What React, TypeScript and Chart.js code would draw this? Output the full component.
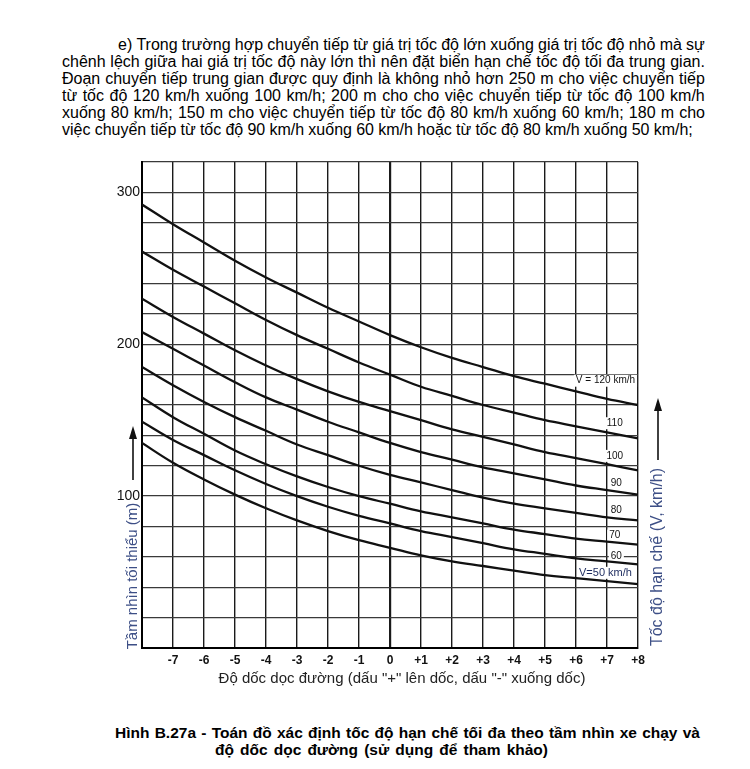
import React, { useEffect, useRef } from 'react';
import { Chart, registerables } from 'chart.js';

Chart.register(...registerables);

// Grade (%) along the x axis
const grades = [-8, -7, -6, -5, -4, -3, -2, -1, 0, 1, 2, 3, 4, 5, 6, 7, 8];
const xTickLabels = ['', '-7', '-6', '-5', '-4', '-3', '-2', '-1', '0', '+1', '+2', '+3', '+4', '+5', '+6', '+7', '+8'];
const yTickLabels = ['100', '200', '300'];

// Minimum sight distance (m) for each speed limit curve
const v120 = [292, 279, 267, 255, 244, 234, 224, 215, 206, 198, 191, 185, 179, 174, 169, 164, 160];
const v110 = [261, 249, 238, 227, 216, 206, 197, 188, 180, 172, 166, 160, 155, 150, 146, 142, 138];
const v100 = [230, 218, 207, 196, 186, 177, 169, 162, 156, 150, 144, 139, 134, 129, 125, 121, 117];
const v90 = [208, 197, 186, 175, 165, 157, 149, 142, 135, 129, 124, 119, 115, 111, 107, 104, 101];
const v80 = [185, 173, 162, 152, 143, 134, 127, 120, 114, 109, 104, 99, 95, 92, 89, 86, 84];
const v70 = [165, 152, 141, 130, 121, 113, 106, 100, 95, 90, 86, 82, 78, 75, 72, 70, 68];
const v60 = [149, 137, 127, 117, 108, 100, 93, 87, 82, 77, 73, 69, 65, 62, 59, 57, 55];
const v50 = [135, 122, 111, 101, 92, 84, 77, 71, 66, 61, 57, 54, 51, 48, 46, 44, 42];

const curveLabels = ['V = 120 km/h', '110', '100', '90', '80', '70', '60', 'V=50 km/h'];
const labelGrade = [6.95, 7.25, 7.25, 7.3, 7.3, 7.25, 7.3, 6.95];
const labelDist = [176, 148, 126.5, 108.5, 90.5, 74, 60.5, 49.5];

const paragraph = [
  'e) Trong trường hợp chuyển tiếp từ giá trị tốc độ lớn xuống giá trị tốc độ nhỏ mà sự',
  'chênh lệch giữa hai giá trị tốc độ này lớn thì nên đặt biển hạn chế tốc độ tối đa trung gian.',
  'Đoạn chuyển tiếp trung gian được quy định là không nhỏ hơn 250 m cho việc chuyển tiếp',
  'từ tốc độ 120 km/h xuống 100 km/h; 200 m cho cho việc chuyển tiếp từ tốc độ 100 km/h',
  'xuống 80 km/h; 150 m cho việc chuyển tiếp từ tốc độ 80 km/h xuống 60 km/h; 180 m cho',
  'việc chuyển tiếp từ tốc độ 90 km/h xuống 60 km/h hoặc từ tốc độ 80 km/h xuống 50 km/h;',
];
const caption = [
  'Hình B.27a - Toán đồ xác định tốc độ hạn chế tối đa theo tầm nhìn xe chạy và',
  'độ dốc dọc đường (sử dụng để tham khảo)',
];
const xTitle = 'Độ dốc dọc đường (dấu "+" lên dốc, dấu "-" xuống dốc)';
const yTitle = 'Tầm nhìn tối thiểu (m)';
const y2Title = 'Tốc độ hạn chế (V, km/h)';

const FONT = '"Liberation Sans", Arial, sans-serif';

function JustLine({ text, left, top, width, size, bold }: any) {
  const words = text.split(' ');
  return (
    <div
      style={{
        position: 'absolute', left, top, width, height: 17, lineHeight: '17px',
        fontSize: size, fontWeight: bold ? 'bold' : 'normal', color: '#000',
        display: 'flex', justifyContent: 'space-between', whiteSpace: 'nowrap',
      }}
    >
      {words.map((w: string, i: number) => <span key={i}>{w}</span>)}
    </div>
  );
}

export default function App() {
  const ref = useRef<HTMLCanvasElement>(null);

  useEffect(() => {
    const canvas = ref.current!;
    const series = [v120, v110, v100, v90, v80, v70, v60, v50];

    const arrow = (ctx: CanvasRenderingContext2D, x: number, y0: number, y1: number) => {
      ctx.beginPath();
      ctx.moveTo(x, y0);
      ctx.lineTo(x, y1 + 10);
      ctx.lineWidth = 1.6;
      ctx.strokeStyle = '#111';
      ctx.stroke();
      ctx.beginPath();
      ctx.moveTo(x, y1);
      ctx.lineTo(x - 4, y1 + 13);
      ctx.lineTo(x + 4, y1 + 13);
      ctx.closePath();
      ctx.fillStyle = '#111';
      ctx.fill();
    };

    const overlay = {
      id: 'overlay',
      beforeDatasetsDraw(chart: any) {
        const { ctx, scales: { x, y } } = chart;
        ctx.save();
        curveLabels.forEach((t, i) => {
          ctx.font = (i === 7 ? '11px ' : '10px ') + FONT;
          const w = ctx.measureText(t).width;
          const px = x.getPixelForValue(labelGrade[i]);
          const py = y.getPixelForValue(labelDist[i]);
          ctx.fillStyle = '#fff';
          ctx.fillRect(px - w / 2 - 2, py - 6, w + 4, 12);
        });
        ctx.restore();
      },
      afterDatasetsDraw(chart: any) {
        const { ctx, scales: { x, y } } = chart;
        ctx.save();
        ctx.textAlign = 'center';
        ctx.textBaseline = 'middle';
        curveLabels.forEach((t, i) => {
          ctx.font = (i === 7 ? '11px ' : '10px ') + FONT;
          ctx.fillStyle = i === 7 ? '#1c2b5e' : '#111';
          ctx.fillText(t, x.getPixelForValue(labelGrade[i]), y.getPixelForValue(labelDist[i]));
        });
        ctx.restore();
      },
      afterDraw(chart: any) {
        const { ctx, chartArea: a } = chart;
        ctx.save();
        // x title
        ctx.font = '15px ' + FONT;
        ctx.fillStyle = '#222';
        ctx.textAlign = 'center';
        ctx.textBaseline = 'middle';
        ctx.fillText(xTitle, a.left + 260, a.bottom + 31);
        // left title
        ctx.save();
        ctx.translate(a.left - 9, a.bottom - 72);
        ctx.rotate(-Math.PI / 2);
        ctx.font = '15px ' + FONT;
        ctx.fillStyle = '#3d4f86';
        ctx.fillText(yTitle, 0, 0);
        ctx.restore();
        // right title
        ctx.save();
        ctx.translate(a.right + 20, a.bottom - 91);
        ctx.rotate(-Math.PI / 2);
        ctx.font = '16px ' + FONT;
        ctx.fillStyle = '#3d4f86';
        ctx.fillText(y2Title, 0, 0);
        ctx.restore();
        // arrows
        arrow(ctx, a.left - 9, a.bottom - 168, a.bottom - 222);
        arrow(ctx, a.right + 20, a.bottom - 188, a.bottom - 250);
        ctx.restore();
      },
    };

    const chart = new Chart(canvas, {
      type: 'line',
      data: {
        datasets: series.map((s, i) => ({
          label: curveLabels[i],
          data: grades.map((g, j) => ({ x: g, y: s[j] })),
          borderColor: '#111',
          borderWidth: 2.3,
          pointRadius: 0,
          fill: false,
          tension: 0.4,
        })),
      },
      options: {
        responsive: false,
        animation: false,
        events: [],
        layout: { padding: { left: 102, right: 112, top: 22, bottom: 22 } },
        plugins: { legend: { display: false }, tooltip: { enabled: false }, title: { display: false } },
        scales: {
          x: {
            type: 'linear',
            min: -8,
            max: 8,
            afterFit: (s: any) => { s.height = 30; },
            ticks: {
              stepSize: 1,
              autoSkip: false,
              maxRotation: 0,
              padding: 5,
              color: '#111',
              font: { family: FONT, size: 12, weight: 'bold' },
              callback: (v: any) => xTickLabels[grades.indexOf(Number(v))] ?? '',
            },
            grid: {
              drawTicks: false,
              color: '#1a1a1a',
              lineWidth: (c: any) => (c.tick && c.tick.value === 0 ? 2.2 : 1.4),
            },
            border: { color: '#000', width: 2 },
          },
          y: {
            type: 'linear',
            min: 0,
            max: 320,
            afterFit: (s: any) => { s.width = 40; },
            ticks: {
              stepSize: 20,
              autoSkip: false,
              padding: 2,
              color: '#111',
              font: { family: FONT, size: 14 },
              callback: (v: any) => (yTickLabels.includes(String(v)) ? String(v) : ''),
            },
            grid: { drawTicks: false, color: '#3a3a3a', lineWidth: 1.3 },
            border: { color: '#000', width: 2 },
          },
        },
      },
      plugins: [overlay],
    } as any);

    return () => chart.destroy();
  }, []);

  return (
    <div
      style={{
        position: 'absolute', left: 0, top: 0, width: 750, height: 769,
        background: '#fff', overflow: 'hidden', fontFamily: FONT,
      }}
    >
      <JustLine text={paragraph[0]} left={118} top={36} width={587} size={16} />
      {paragraph.slice(1, 5).map((t, i) => (
        <JustLine key={i} text={t} left={62} top={53 + 17 * i} width={643} size={16} />
      ))}
      <JustLine text={paragraph[5]} left={62} top={121} width={631} size={16} />
      <canvas
        ref={ref}
        width={750}
        height={560}
        style={{ position: 'absolute', left: 0, top: 140, width: 750, height: 560 }}
      />
      <JustLine text={caption[0]} left={115} top={724} width={585} size={15.5} bold />
      <JustLine text={caption[1]} left={215} top={741} width={333} size={15.5} bold />
    </div>
  );
}
